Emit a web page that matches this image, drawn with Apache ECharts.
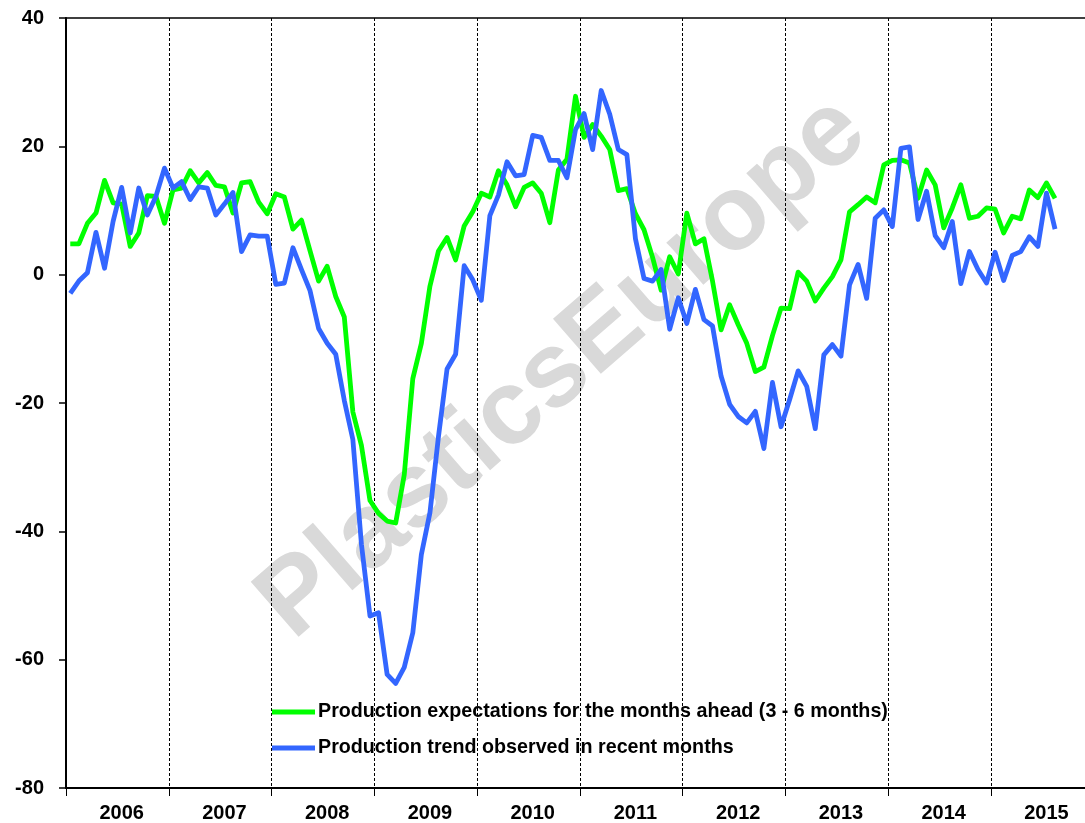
<!DOCTYPE html>
<html><head><meta charset="utf-8">
<script src="https://cdn.jsdelivr.net/npm/echarts@6/dist/echarts.min.js"></script>
<style>html,body{margin:0;padding:0;background:#fff}#c{width:1085px;height:823px}</style>
</head><body><div id="c"></div>
<script>
// Tick labels / categories
const years = ['2006','2007','2008','2009','2010','2011','2012','2013','2014','2015'];
const monthCount = 119; // Jan 2006 .. Nov 2015 (axis span; data ends Aug 2015)
const yMin = -80, yMax = 40, yStep = 20;

const seriesNames = [
  'Production expectations for the months ahead (3 - 6 months)',
  'Production trend observed in recent months'
];

// Production expectations for the months ahead (monthly, Jan 2006 -> Aug 2015)
const expectations = [
  4.8, 4.8, 8.0, 9.6, 14.7, 11.2, 11.0, 4.4, 6.5, 12.3, 12.2, 8.0,
  13.2, 13.5, 16.2, 14.3, 15.9, 13.9, 13.7, 9.6, 14.3, 14.5, 11.3, 9.5,
  12.6, 12.1, 7.1, 8.5, 3.7, -1.0, 1.3, -3.4, -6.6, -21.4, -26.6, -35.2,
  -37.2, -38.4, -38.7, -31.2, -16.2, -10.7, -1.8, 3.7, 5.8, 2.3, 7.6, 9.8,
  12.7, 12.1, 16.2, 14.0, 10.6, 13.6, 14.3, 12.7, 8.1, 16.3, 18.0, 27.8,
  21.4, 23.4, 21.6, 19.5, 13.1, 13.4, 9.5, 7.0, 2.7, -2.4, 2.8, 0.1,
  9.6, 4.8, 5.6, -1.0, -8.6, -4.7, -7.8, -10.7, -15.1, -14.4, -9.5, -5.2,
  -5.3, 0.4, -1.0, -4.1, -2.1, -0.3, 2.3, 9.8, 10.9, 12.1, 11.2, 17.1,
  17.8, 17.9, 17.4, 11.9, 16.3, 14.0, 7.3, 10.4, 14.0, 8.8, 9.1, 10.4,
  10.2, 6.5, 9.1, 8.7, 13.2, 12.0, 14.3, 11.9
];

// Production trend observed in recent months
const trend = [
  -2.9, -1.0, 0.3, 6.6, 1.0, 8.3, 13.6, 6.5, 13.5, 9.3, 12.2, 16.6,
  13.5, 14.5, 11.7, 13.7, 13.5, 9.3, 11.0, 12.8, 3.6, 6.2, 6.0, 6.0,
  -1.5, -1.3, 4.2, 0.8, -2.5, -8.4, -10.7, -12.4, -19.6, -25.7, -42.0, -53.2,
  -52.7, -62.3, -63.7, -61.2, -55.8, -43.6, -37.1, -25.2, -14.7, -12.4, 1.4, -0.8,
  -4.0, 9.2, 12.4, 17.6, 15.4, 15.6, 21.7, 21.4, 17.8, 17.8, 15.1, 22.6,
  25.1, 19.5, 28.7, 25.0, 19.5, 18.7, 5.6, -0.6, -1.0, 0.8, -8.5, -3.6,
  -7.6, -2.3, -7.0, -8.0, -15.8, -20.2, -22.1, -23.1, -21.3, -27.1, -16.8, -23.7,
  -19.5, -15.0, -17.4, -24.0, -12.5, -10.9, -12.7, -1.6, 1.6, -3.7, 8.8, 10.1,
  7.5, 19.7, 19.9, 8.6, 13.0, 6.1, 4.2, 8.3, -1.4, 3.6, 0.8, -1.3,
  3.5, -0.9, 3.0, 3.6, 5.9, 4.4, 12.7, 7.1
];

const categories = [];
for (let i = 0; i < monthCount; i++) {
  categories.push(years[Math.floor(i / 12)] + '-' + String(i % 12 + 1).padStart(2, '0'));
}

const FONT = '"Liberation Sans", Arial, Helvetica, sans-serif';
const chart = echarts.init(document.getElementById('c'), null, {renderer: 'canvas'});
chart.setOption({
  animation: false,
  backgroundColor: '#ffffff',
  grid: {left: 66, top: 18, width: 1021, height: 770, containLabel: false},
  legend: {
    orient: 'vertical',
    left: 272, top: 702,
    padding: 0,
    itemWidth: 43, itemHeight: 5, itemGap: 16,
    icon: 'rect',
    textStyle: {fontFamily: FONT, fontWeight: 'bold', fontSize: 19.7, color: '#000', lineHeight: 20, padding: [0,0,0,-2]},
    data: seriesNames
  },
  graphic: [{
    type: 'text',
    x: 563, y: 368,
    rotation: 0.716,
    z: -1,
    silent: true,
    style: {
      text: 'PlasticsEurope',
      font: 'bold 106px ' + FONT,
      fill: '#d9d9d9',
      align: 'center', verticalAlign: 'middle',
      textAlign: 'center', textVerticalAlign: 'middle'
    }
  }],
  xAxis: [{
    type: 'category',
    data: categories,
    boundaryGap: true,
    axisLine: {show: true, onZero: false, lineStyle: {color: '#000', width: 2}},
    axisTick: {show: true, length: 8, interval: (i) => i % 12 === 0, lineStyle: {color: '#000', width: 1}},
    axisLabel: {
      interval: (i) => i % 12 === 6,
      formatter: (v) => v.slice(0, 4),
      margin: 15,
      fontFamily: FONT, fontWeight: 'bold', fontSize: 20, color: '#000'
    },
    splitLine: {show: true, interval: (i) => i % 12 === 0 && i > 0, lineStyle: {color: '#000', width: 1, type: [3, 2]}}
  }, {
    type: 'category',
    data: categories,
    position: 'top',
    boundaryGap: true,
    axisLine: {show: true, onZero: false, lineStyle: {color: '#000', width: 1.5}},
    axisTick: {show: false},
    axisLabel: {show: false},
    splitLine: {show: false}
  }],
  yAxis: {
    type: 'value',
    min: yMin, max: yMax, interval: yStep,
    axisLine: {show: true, onZero: false, lineStyle: {color: '#000', width: 2}},
    axisTick: {show: true, length: 7, lineStyle: {color: '#000', width: 1.5}},
    axisLabel: {margin: 22, fontFamily: FONT, fontWeight: 'bold', fontSize: 20, color: '#000'},
    splitLine: {show: false}
  },
  series: [{
    name: seriesNames[0],
    type: 'line',
    data: expectations,
    symbol: 'none',
    lineStyle: {color: '#00ff00', width: 4.8, join: 'round'},
    itemStyle: {color: '#00ff00'},
    z: 3
  }, {
    name: seriesNames[1],
    type: 'line',
    data: trend,
    symbol: 'none',
    lineStyle: {color: '#3366ff', width: 4.8, join: 'round'},
    itemStyle: {color: '#3366ff'},
    z: 4
  }]
});
</script>
</body></html>
